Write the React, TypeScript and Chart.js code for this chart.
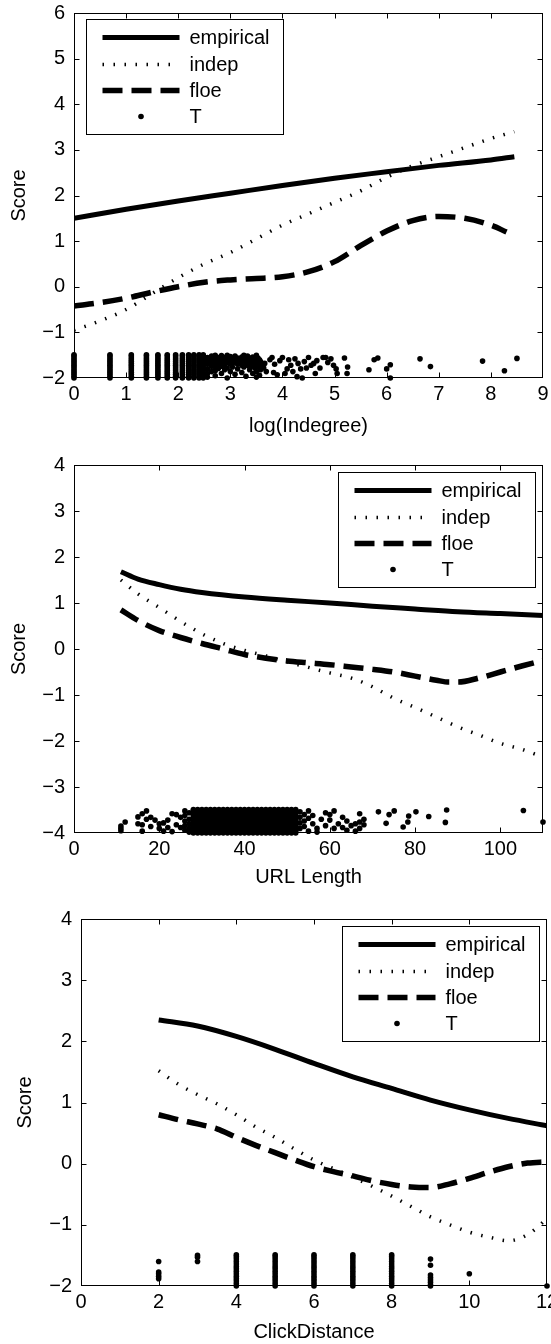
import { useEffect, useRef } from "react";
import { Chart, registerables } from "chart.js";
Chart.register(...registerables);

const FONT = '"Liberation Sans", Arial, Helvetica, sans-serif';
const FS = 20;
const W = 551;
const H = 448;

// ---------- Panel 1: log(Indegree) ----------
const p1XTicks = [0, 1, 2, 3, 4, 5, 6, 7, 8, 9];
const p1YTicks = [-2, -1, 0, 1, 2, 3, 4, 5, 6];
const p1EmpX = [0, 1, 2, 3, 4, 5, 6, 7, 8, 8.45];
const p1EmpY = [1.5, 1.7, 1.88, 2.05, 2.22, 2.38, 2.52, 2.66, 2.78, 2.85];
const p1IndX = [0, 0.5, 1, 1.5, 2, 2.5, 3, 3.5, 4, 4.5, 5, 5.5, 6, 6.5, 7, 7.5, 8, 8.45];
const p1IndY = [-0.95, -0.75, -0.5, -0.15, 0.2, 0.5, 0.75, 1.05, 1.35, 1.6, 1.85, 2.1, 2.4, 2.65, 2.85, 3.05, 3.25, 3.4];
const p1FloeX = [0, 0.5, 1, 1.5, 2, 2.5, 3, 3.5, 4, 4.5, 5, 5.5, 6, 6.5, 7, 7.5, 8, 8.3];
const p1FloeY = [-0.42, -0.35, -0.25, -0.12, 0.0, 0.1, 0.15, 0.18, 0.22, 0.33, 0.55, 0.9, 1.22, 1.45, 1.54, 1.5, 1.35, 1.2];
const colA = [-2, -1.96, -1.92, -1.88, -1.84, -1.8, -1.76, -1.72, -1.68, -1.64, -1.6, -1.56, -1.52, -1.49];
const p1ColX = [0, 0.69, 1.1, 1.39, 1.61, 1.79, 1.95, 2.08, 2.2, 2.3, 2.4, 2.48];
const p1TExtra: [number, number][] = [
  [2.56, -1.55], [2.56, -1.62], [2.56, -1.7], [2.56, -1.8], [2.56, -1.9], [2.56, -1.98],
  [2.64, -1.52], [2.64, -1.6], [2.64, -1.66], [2.64, -1.74], [2.64, -1.86],
  [2.71, -1.5], [2.71, -1.58], [2.71, -1.68], [2.71, -1.76], [2.71, -1.84], [2.71, -1.95],
  [2.77, -1.55], [2.77, -1.63], [2.77, -1.7], [2.77, -1.79],
  [2.83, -1.51], [2.83, -1.6], [2.83, -1.67], [2.83, -1.74], [2.83, -1.9],
  [2.89, -1.55], [2.89, -1.64], [2.89, -1.72], [2.89, -1.82],
  [2.94, -1.5], [2.94, -1.58], [2.94, -1.66], [2.94, -1.78], [2.94, -2.0],
  [3.0, -1.53], [3.0, -1.62], [3.0, -1.7], [3.0, -1.86],
  [3.04, -1.58], [3.04, -1.68], [3.04, -1.76],
  [3.09, -1.52], [3.09, -1.64], [3.09, -1.92],
  [3.14, -1.56], [3.14, -1.7], [3.14, -1.8],
  [3.18, -1.6], [3.18, -1.66],
  [3.22, -1.54], [3.22, -1.72], [3.22, -1.88],
  [3.26, -1.5], [3.26, -1.62], [3.26, -1.76],
  [3.3, -1.58], [3.3, -1.68], [3.3, -1.96],
  [3.33, -1.52], [3.33, -1.64], [3.33, -1.72],
  [3.37, -1.56], [3.37, -1.82],
  [3.4, -1.6], [3.4, -1.68], [3.4, -1.74],
  [3.43, -1.54], [3.43, -1.66], [3.43, -1.9],
  [3.47, -1.58], [3.47, -1.7], [3.47, -1.78],
  [3.5, -1.5], [3.5, -1.62], [3.5, -1.72], [3.5, -1.86], [3.5, -1.98],
  [3.53, -1.56], [3.53, -1.66], [3.53, -1.76],
  [3.56, -1.6], [3.56, -1.7], [3.56, -1.94],
  [3.58, -1.64], [3.58, -1.82],
  [3.61, -1.72], [3.64, -1.78], [3.66, -1.68], [3.69, -1.86],
  [3.76, -1.6], [3.8, -1.55], [3.83, -1.88], [3.85, -1.7], [3.9, -1.93], [3.95, -1.62],
  [4.0, -1.55], [4.05, -1.9], [4.09, -1.8], [4.12, -1.6], [4.16, -1.72], [4.2, -1.86],
  [4.24, -1.58], [4.28, -1.97], [4.3, -1.68], [4.35, -1.8], [4.38, -2.0], [4.42, -1.64],
  [4.46, -1.78], [4.5, -1.55], [4.55, -1.72], [4.6, -1.68], [4.63, -1.9], [4.66, -1.62],
  [4.72, -1.78], [4.78, -1.55], [4.83, -1.55], [4.87, -1.66], [4.93, -1.58], [4.98, -1.72],
  [5.03, -1.8], [5.05, -1.9], [5.19, -1.56], [5.24, -1.9], [5.25, -1.76], [5.66, -1.82],
  [5.76, -1.6], [5.83, -1.56], [6.0, -1.8], [6.07, -1.71], [6.07, -2.0], [6.64, -1.58],
  [6.84, -1.75], [7.84, -1.63], [8.26, -1.84], [8.5, -1.57],
];

// ---------- Panel 2: URL Length ----------
const p2XTicks = [0, 20, 40, 60, 80, 100];
const p2YTicks = [-4, -3, -2, -1, 0, 1, 2, 3, 4];
const p2EmpX = [11, 15, 20, 25, 30, 40, 50, 60, 70, 80, 90, 100, 110];
const p2EmpY = [1.68, 1.52, 1.4, 1.3, 1.23, 1.13, 1.06, 1.0, 0.93, 0.87, 0.81, 0.77, 0.73];
const p2IndX = [11, 15, 20, 25, 30, 35, 40, 45, 50, 55, 60, 65, 70, 75, 80, 85, 90, 95, 100, 105, 110];
const p2IndY = [1.5, 1.2, 0.9, 0.6, 0.33, 0.12, -0.03, -0.15, -0.28, -0.4, -0.52, -0.63, -0.82, -1.07, -1.27, -1.48, -1.69, -1.87, -2.05, -2.18, -2.35];
const p2FloeX = [11, 15, 20, 25, 30, 35, 40, 45, 50, 55, 60, 65, 70, 75, 80, 85, 88, 90, 95, 100, 105, 110];
const p2FloeY = [0.85, 0.62, 0.4, 0.25, 0.12, 0.0, -0.12, -0.2, -0.26, -0.3, -0.34, -0.39, -0.44, -0.5, -0.59, -0.68, -0.72, -0.72, -0.63, -0.5, -0.37, -0.25];
const colB = [-4, -3.96, -3.92, -3.88, -3.84, -3.8, -3.76, -3.72, -3.68, -3.64, -3.6, -3.56, -3.52, -3.49];
const p2ColX = [28, 29, 30, 31, 32, 33, 34, 35, 36, 37, 38, 39, 40, 41, 42, 43, 44, 45, 46, 47, 48, 49, 50, 51, 52];
const p2TExtra: [number, number][] = [
  [11, -3.95], [11, -3.9], [11, -3.85], [12, -3.76], [15, -3.8], [15, -3.65], [16, -3.58], [16, -3.82],
  [16, -3.96], [17, -3.52], [17, -3.7], [18, -3.66], [18, -3.86], [19, -3.72], [20, -3.8], [20, -3.9],
  [21, -3.78], [21, -3.96], [22, -3.72], [22, -3.88], [23, -3.58], [23, -3.97], [24, -3.6], [24, -3.82],
  [25, -3.88], [25, -3.66], [26, -3.52], [26, -3.62], [26, -3.74], [26, -3.84], [26, -3.94],
  [27, -3.56], [27, -3.7], [27, -3.8], [27, -3.9], [27, -3.98],
  [53, -3.54], [53, -3.66], [53, -3.78], [53, -3.9], [54, -3.6], [54, -3.74], [54, -3.86],
  [55, -3.52], [55, -3.68], [55, -3.96], [56, -3.8], [56, -3.62], [57, -3.9], [57, -3.98],
  [58, -3.7], [59, -3.56], [59, -3.84], [60, -3.6], [60, -3.72], [61, -3.52], [61, -3.9],
  [62, -3.8], [63, -3.66], [63, -3.88], [64, -3.74], [64, -3.94], [65, -3.84], [66, -3.8],
  [66, -3.96], [67, -3.58], [67, -3.76], [67, -3.9], [68, -3.82], [68, -3.7],
  [71.4, -3.54], [73.2, -3.79], [73.9, -3.6], [75.1, -3.52], [77.2, -3.87], [78.3, -3.76],
  [78.5, -3.63], [80.2, -3.54], [83.2, -3.64], [87.4, -3.5], [87.1, -3.77], [105.4, -3.51], [110, -3.76],
];

// ---------- Panel 3: ClickDistance ----------
const p3XTicks = [0, 2, 4, 6, 8, 10, 12];
const p3YTicks = [-2, -1, 0, 1, 2, 3, 4];
const p3EmpX = [2, 3, 4, 5, 6, 7, 8, 9, 10, 11, 12];
const p3EmpY = [2.35, 2.25, 2.08, 1.87, 1.64, 1.42, 1.23, 1.04, 0.88, 0.74, 0.62];
const p3IndX = [2, 2.5, 3, 3.5, 4, 4.5, 5, 5.5, 6, 6.5, 7, 7.5, 8, 8.5, 9, 9.5, 10, 10.5, 11, 11.5, 12];
const p3IndY = [1.52, 1.3, 1.13, 0.98, 0.8, 0.6, 0.43, 0.24, 0.06, -0.08, -0.22, -0.37, -0.53, -0.7, -0.87, -1.0, -1.12, -1.2, -1.26, -1.16, -0.9];
const p3FloeX = [2, 2.5, 3, 3.5, 4, 4.5, 5, 5.5, 6, 6.5, 7, 7.5, 8, 8.5, 9, 9.5, 10, 10.5, 11, 11.5, 12];
const p3FloeY = [0.8, 0.72, 0.65, 0.57, 0.43, 0.3, 0.18, 0.06, -0.05, -0.13, -0.2, -0.28, -0.34, -0.38, -0.39, -0.33, -0.24, -0.14, -0.05, 0.01, 0.03];
const p3ColX = [4, 5, 6, 7, 8];
const p3TExtra: [number, number][] = [
  [2, -1.6], [2, -1.77], [2, -1.8], [2, -1.84], [2, -1.88],
  [3, -1.5], [3, -1.53], [3, -1.6],
  [9, -1.56], [9, -1.66], [9, -1.82], [9, -1.86], [9, -1.9], [9, -1.94], [9, -1.98], [9, -2.0],
  [10, -1.8], [12, -2.0],
];

const seriesLabels = ["empirical", "indep", "floe", "T"];

function fmt(v: number) {
  return v < 0 ? "\u2212" + Math.abs(v) : String(v);
}
function pts(xs: number[], ys: number[]) {
  return xs.map((x, i) => ({ x, y: ys[i] }));
}
function tPoints(colXs: number[], col: number[], extra: [number, number][]) {
  const out: { x: number; y: number }[] = [];
  colXs.forEach((x) => col.forEach((y) => out.push({ x, y })));
  extra.forEach(([x, y]) => out.push({ x, y }));
  return out;
}

type Area = { left: number; top: number; right: number; bottom: number };
type PanelSpec = {
  top: number;
  area: Area;
  xMin: number; xMax: number; yMin: number; yMax: number;
  xTicks: number[]; yTicks: number[];
  xTitle: string; xTitlePad: number; yTitlePad: number;
  legendCorner: "tl" | "tr"; legendDx: number; legendDy: number;
  emp: { x: number; y: number }[];
  ind: { x: number; y: number }[];
  floe: { x: number; y: number }[];
  t: { x: number; y: number }[];
};

const panels: PanelSpec[] = [
  {
    top: 0, area: { left: 74, top: 13, right: 543, bottom: 378 },
    xMin: 0, xMax: 9, yMin: -2, yMax: 6, xTicks: p1XTicks, yTicks: p1YTicks,
    xTitle: "log(Indegree)", xTitlePad: 10, yTitlePad: 7,
    legendCorner: "tl", legendDx: 12, legendDy: 6,
    emp: pts(p1EmpX, p1EmpY), ind: pts(p1IndX, p1IndY), floe: pts(p1FloeX, p1FloeY),
    t: tPoints(p1ColX, colA, p1TExtra),
  },
  {
    top: 448, area: { left: 74, top: 17, right: 543, bottom: 385 },
    xMin: 0, xMax: 110, yMin: -4, yMax: 4, xTicks: p2XTicks, yTicks: p2YTicks,
    xTitle: "URL Length", xTitlePad: 7, yTitlePad: 7,
    legendCorner: "tr", legendDx: 8, legendDy: 7,
    emp: pts(p2EmpX, p2EmpY), ind: pts(p2IndX, p2IndY), floe: pts(p2FloeX, p2FloeY),
    t: tPoints(p2ColX, colB, p2TExtra),
  },
  {
    top: 896, area: { left: 81, top: 23, right: 550, bottom: 390 },
    xMin: 0, xMax: 12, yMin: -2, yMax: 4, xTicks: p3XTicks, yTicks: p3YTicks,
    xTitle: "ClickDistance", xTitlePad: 0, yTitlePad: 13,
    legendCorner: "tr", legendDx: 8.5, legendDy: 7,
    emp: pts(p3EmpX, p3EmpY), ind: pts(p3IndX, p3IndY), floe: pts(p3FloeX, p3FloeY),
    t: tPoints(p3ColX, colA, p3TExtra),
  },
];

const matlabPlugin = {
  id: "matlabDeco",
  afterDatasetsDraw(chart: any, _args: any, opts: any) {
    const ctx = chart.ctx as CanvasRenderingContext2D;
    const a = chart.chartArea;
    const xs = chart.scales.x;
    const ys = chart.scales.y;
    const L = Math.round(a.left) + 0.5;
    const R = Math.round(a.right) - 0.5;
    const T = Math.round(a.top) + 0.5;
    const B = Math.round(a.bottom) - 0.5;
    ctx.save();
    ctx.strokeStyle = "#000";
    ctx.lineWidth = 1;
    ctx.setLineDash([]);
    ctx.strokeRect(L, T, R - L, B - T);
    const tl = 5;
    ctx.beginPath();
    xs.ticks.forEach((t: any) => {
      const px = Math.round(xs.getPixelForValue(t.value)) + 0.5;
      if (px <= L + 1 || px >= R - 1) return;
      ctx.moveTo(px, B); ctx.lineTo(px, B - tl);
      ctx.moveTo(px, T); ctx.lineTo(px, T + tl);
    });
    ys.ticks.forEach((t: any) => {
      const py = Math.round(ys.getPixelForValue(t.value)) + 0.5;
      if (py <= T + 1 || py >= B - 1) return;
      ctx.moveTo(L, py); ctx.lineTo(L + tl, py);
      ctx.moveTo(R, py); ctx.lineTo(R - tl, py);
    });
    ctx.stroke();

    // legend
    const w = 197, h = 115;
    const bx = Math.round(opts.corner === "tl" ? a.left + opts.dx : a.right - opts.dx - w) + 0.5;
    const by = Math.round(a.top + opts.dy) + 0.5;
    ctx.fillStyle = "#fff";
    ctx.fillRect(bx, by, w, h);
    ctx.strokeRect(bx, by, w, h);
    const rows = [18, 45, 71, 97];
    ctx.font = `${FS}px ${FONT}`;
    ctx.textBaseline = "middle";
    ctx.textAlign = "left";
    chart.data.datasets.forEach((ds: any, i: number) => {
      const y = by + rows[i];
      if (ds.showLine === false) {
        ctx.fillStyle = "#000";
        ctx.beginPath();
        ctx.arc(bx + 54.5, y, ds.pointRadius, 0, Math.PI * 2);
        ctx.fill();
      } else {
        ctx.strokeStyle = "#000";
        ctx.lineWidth = ds.borderWidth;
        ctx.lineCap = "butt";
        ctx.setLineDash(ds.borderDash || []);
        ctx.beginPath();
        ctx.moveTo(bx + 16, y);
        ctx.lineTo(bx + 93, y);
        ctx.stroke();
        ctx.setLineDash([]);
      }
      ctx.fillStyle = "#000";
      ctx.fillText(ds.label, bx + 103, y + 1);
    });
    ctx.restore();
  },
};

function Panel({ spec }: { spec: PanelSpec }) {
  const ref = useRef<HTMLCanvasElement | null>(null);
  useEffect(() => {
    if (!ref.current) return;
    const font = { family: FONT, size: FS };
    const a = spec.area;
    const lineCommon = { showLine: true, pointRadius: 0, borderColor: "#000", backgroundColor: "#000", fill: false, cubicInterpolationMode: "monotone", borderCapStyle: "butt", borderJoinStyle: "round" };
    const chart = new Chart(ref.current, {
      type: "scatter",
      data: {
        datasets: [
          { ...lineCommon, label: seriesLabels[0], data: spec.emp, borderWidth: 5 },
          { ...lineCommon, label: seriesLabels[1], data: spec.ind, borderWidth: 3.5, borderDash: [1.5, 9.5] },
          { ...lineCommon, label: seriesLabels[2], data: spec.floe, borderWidth: 5.5, borderDash: [20, 9] },
          { label: seriesLabels[3], data: spec.t, showLine: false, pointRadius: 2.8, pointBorderWidth: 0, pointBackgroundColor: "#000", backgroundColor: "#000", borderColor: "#000", clip: false },
        ] as any,
      },
      options: {
        animation: false,
        responsive: false,
        devicePixelRatio: 1,
        events: [],
        layout: { padding: { left: 0, top: a.top, right: W - a.right, bottom: 0 } },
        plugins: {
          legend: { display: false },
          tooltip: { enabled: false },
          matlabDeco: { corner: spec.legendCorner, dx: spec.legendDx, dy: spec.legendDy },
        } as any,
        scales: {
          x: {
            type: "linear",
            min: spec.xMin,
            max: spec.xMax,
            afterBuildTicks: (s: any) => { s.ticks = spec.xTicks.map((v) => ({ value: v })); },
            afterFit: (s: any) => { s.height = H - a.bottom; s.paddingLeft = 0; s.paddingRight = 0; },
            ticks: { font, color: "#000", padding: 4, maxRotation: 0, autoSkip: false, callback: (v: any) => fmt(Number(v)) },
            grid: { display: false, drawTicks: false },
            border: { display: false },
            title: { display: true, text: spec.xTitle, font, color: "#000", padding: { top: 0, bottom: spec.xTitlePad } },
          },
          y: {
            type: "linear",
            min: spec.yMin,
            max: spec.yMax,
            afterBuildTicks: (s: any) => { s.ticks = spec.yTicks.map((v) => ({ value: v })); },
            afterFit: (s: any) => { s.width = a.left; s.paddingTop = 0; s.paddingBottom = 0; },
            ticks: { font, color: "#000", padding: 9, autoSkip: false, callback: (v: any) => fmt(Number(v)) },
            grid: { display: false, drawTicks: false },
            border: { display: false },
            title: { display: true, text: "Score", font, color: "#000", padding: { top: spec.yTitlePad, bottom: 0 } },
          },
        } as any,
      },
      plugins: [matlabPlugin],
    } as any);
    return () => chart.destroy();
  }, [spec]);
  return (
    <div style={{ position: "absolute", left: 0, top: spec.top, width: W, height: H, overflow: "hidden" }}>
      <canvas ref={ref} width={W} height={H} style={{ width: W, height: H, display: "block" }} />
    </div>
  );
}

export default function App() {
  return (
    <div style={{ position: "absolute", left: 0, top: 0, width: W, height: 1344, background: "#fff", overflow: "hidden" }}>
      {panels.map((p, i) => (
        <Panel key={i} spec={p} />
      ))}
    </div>
  );
}
